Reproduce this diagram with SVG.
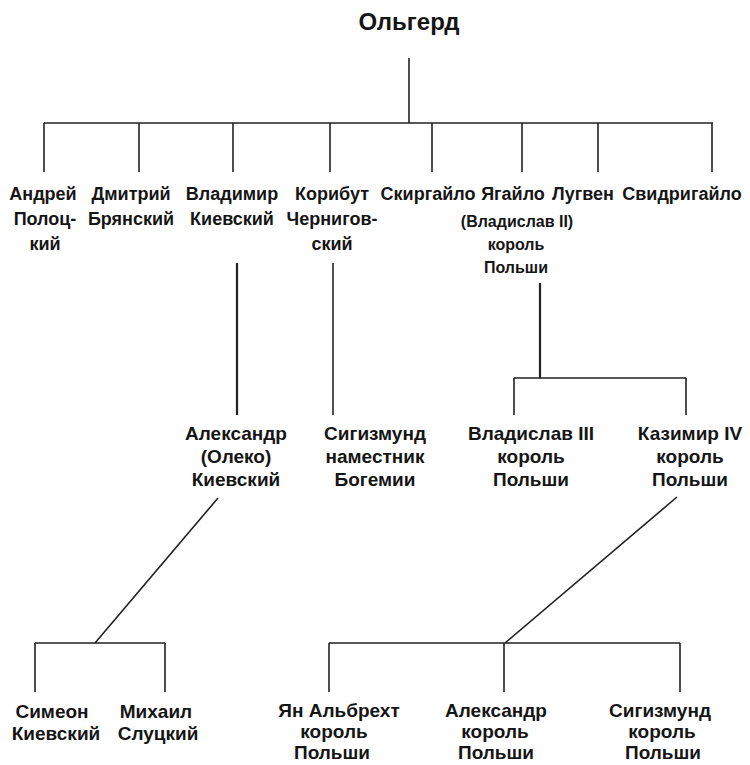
<svg xmlns="http://www.w3.org/2000/svg" width="750" height="765" viewBox="0 0 750 765">
<style>
  text { font-family: "Liberation Sans", Arial, sans-serif; font-weight: bold; fill: #151515; text-anchor: middle; }
  .root { font-size: 24px; }
  .r1 { font-size: 18px; }
  .sub { font-size: 16px; }
  .r2 { font-size: 19px; }
  .r3 { font-size: 19px; }
  .ln { stroke: #222; stroke-width: 1.6; fill: none; }
  .thick { stroke-width: 2.2; }
</style>
<rect width="750" height="765" fill="#fff"/>
<g id="connectors">
  <path class="ln" d="M409,58 V123 M44,123 H713"/>
  <path class="ln" d="M44,123 V172 M139,123 V172 M233,123 V172 M330,123 V172 M432,123 V172 M522,123 V172 M598,123 V172 M712,123 V172"/>
  <path class="ln thick" d="M237,263 V415"/>
  <path class="ln" d="M333,263 V415"/>
  <path class="ln thick" d="M540,283 V378"/>
  <path class="ln" d="M514,378 H686 M514,378 V415 M686,378 V415"/>
  <path class="ln" d="M218,498 L95,643 M35,643 H165 M35,643 V692 M165,643 V692"/>
  <path class="ln" d="M677,497 L505,643 M329,643 H680 M329,643 V692 M504,643 V692 M680,643 V692"/>
</g>
<g id="olgerd"><text class="root" x="409" y="30">Ольгерд</text></g>
<g id="andrey"><text class="r1" x="43" y="200">Андрей</text><text class="r1" x="45" y="225">Полоц-</text><text class="r1" x="45" y="250">кий</text></g>
<g id="dmitry"><text class="r1" x="131" y="200">Дмитрий</text><text class="r1" x="131" y="225">Брянский</text></g>
<g id="vladimir"><text class="r1" x="232" y="200">Владимир</text><text class="r1" x="232" y="225">Киевский</text></g>
<g id="koribut"><text class="r1" x="332" y="200">Корибут</text><text class="r1" x="332" y="225">Чернигов-</text><text class="r1" x="332" y="250">ский</text></g>
<g id="skirgailo"><text class="r1" x="428" y="200">Скиргайло</text></g>
<g id="jagiello"><text class="r1" x="513" y="200">Ягайло</text><text class="sub" x="517" y="227">(Владислав II)</text><text class="sub" x="516" y="250">король</text><text class="sub" x="516" y="273">Польши</text></g>
<g id="lugven"><text class="r1" x="583" y="200">Лугвен</text></g>
<g id="svidrigailo"><text class="r1" x="682" y="200">Свидригайло</text></g>
<g id="alexander-oleko"><text class="r2" x="236" y="440">Александр</text><text class="r2" x="236" y="463">(Олеко)</text><text class="r2" x="236" y="486">Киевский</text></g>
<g id="sigismund-bohemia"><text class="r2" x="375" y="440">Сигизмунд</text><text class="r2" x="375" y="463">наместник</text><text class="r2" x="375" y="486">Богемии</text></g>
<g id="wladyslaw3"><text class="r2" x="531" y="440">Владислав III</text><text class="r2" x="531" y="463">король</text><text class="r2" x="531" y="486">Польши</text></g>
<g id="casimir4"><text class="r2" x="690" y="440">Казимир IV</text><text class="r2" x="690" y="463">король</text><text class="r2" x="690" y="486">Польши</text></g>
<g id="simeon"><text class="r3" x="52" y="718">Симеон</text><text class="r3" x="56" y="740">Киевский</text></g>
<g id="mikhail"><text class="r3" x="156" y="718">Михаил</text><text class="r3" x="158" y="740">Слуцкий</text></g>
<g id="jan-olbracht"><text class="r3" x="339" y="717">Ян Альбрехт</text><text class="r3" x="334" y="738">король</text><text class="r3" x="332" y="759">Польши</text></g>
<g id="alexander-king"><text class="r3" x="496" y="717">Александр</text><text class="r3" x="495" y="738">король</text><text class="r3" x="496" y="759">Польши</text></g>
<g id="sigismund-king"><text class="r3" x="660" y="717">Сигизмунд</text><text class="r3" x="662" y="738">король</text><text class="r3" x="663" y="759">Польши</text></g>
</svg>
